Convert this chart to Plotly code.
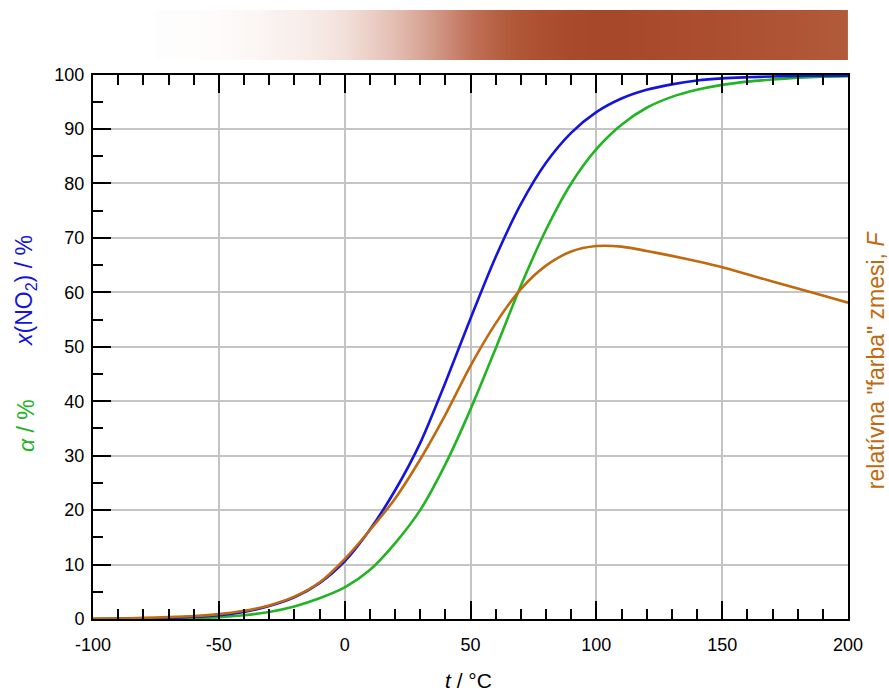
import plotly.graph_objects as go

# Temperature (°C)
t = [-100, -90, -80, -70, -60, -50, -40, -30, -20, -10, 0, 10, 20, 30, 40, 50,
     60, 70, 80, 90, 100, 110, 120, 130, 140, 150, 160, 170, 180, 190, 200]

# x(NO2) / %  (blue)
x_no2 = [0.0, 0.05, 0.1, 0.2, 0.4, 0.7, 1.3, 2.4, 4.0, 6.6, 10.6, 16.4, 23.6, 32.3,
         43.4, 55.2, 66.5, 76.2, 83.8, 89.3, 93.1, 95.6, 97.2, 98.2, 98.9, 99.3,
         99.5, 99.65, 99.75, 99.8, 99.8]

# alpha / %  (green)
alpha = [0.0, 0.02, 0.05, 0.1, 0.2, 0.35, 0.7, 1.3, 2.3, 3.8, 5.8, 9.0, 13.9, 20.0,
         28.4, 38.5, 49.7, 61.2, 71.5, 80.0, 86.3, 90.8, 93.9, 95.9, 97.2, 98.1,
         98.7, 99.1, 99.4, 99.6, 99.7]

# relative "colour" of the mixture, F  (orange)
farba = [0.05, 0.1, 0.2, 0.35, 0.55, 0.9, 1.5, 2.5, 4.1, 6.7, 11.0, 16.3, 22.1, 29.3,
         37.5, 46.5, 54.3, 60.6, 64.9, 67.5, 68.5, 68.4, 67.6, 66.7, 65.7, 64.6,
         63.3, 62.0, 60.7, 59.4, 58.1]

x_tick_vals = [-100, -50, 0, 50, 100, 150, 200]
x_tick_text = ["-100", "-50", "0", "50", "100", "150", "200"]

# colour strip spans from -70 °C on
strip_start = 3

BLUE = "#1414DC"
GREEN = "#22B422"
ORANGE = "#C0690F"
FONT = "Liberation Sans, Arial, sans-serif"

fig = go.Figure()

# colour strip on top
fig.add_trace(go.Heatmap(
    x=t[strip_start:], y=[0], z=[farba[strip_start:]],
    xaxis="x2", yaxis="y2",
    colorscale=[[0.0, "#FFFFFF"], [0.045, "#FAF1EE"], [0.16, "#F2E0DA"],
                [0.38, "#DEB2A4"], [0.69, "#C07058"], [0.85, "#B25A3A"],
                [1.0, "#A8482A"]],
    zmin=0, zmax=68.5, zsmooth="best", showscale=False, hoverinfo="skip",
))

for y, c in [(alpha, GREEN), (x_no2, BLUE), (farba, ORANGE)]:
    fig.add_trace(go.Scatter(
        x=t, y=y, mode="lines",
        line=dict(color=c, width=2.6, shape="spline", smoothing=0.8),
        showlegend=False, hoverinfo="skip",
    ))

tickfont = dict(family=FONT, size=18, color="black")

fig.update_layout(
    width=889, height=691,
    margin=dict(l=93, r=41, t=10, b=72),
    paper_bgcolor="white", plot_bgcolor="white",
    showlegend=False,
    font=dict(family=FONT, size=18, color="black"),
    xaxis=dict(
        range=[-100, 200], tickvals=x_tick_vals, ticktext=x_tick_text,
        ticks="inside", ticklen=18, tickwidth=2, tickcolor="black",
        minor=dict(dtick=10, ticks="inside", ticklen=10, tickwidth=2,
                   tickcolor="black", showgrid=False),
        showline=True, linecolor="black", linewidth=2, mirror="allticks",
        showgrid=True, gridcolor="#C4C4C4", gridwidth=2,
        zeroline=False, tickfont=tickfont, anchor="y", automargin=False,
        ticklabelstandoff=8,
    ),
    yaxis=dict(
        range=[0, 100], domain=[0, 0.894], dtick=10,
        ticks="inside", ticklen=18, tickwidth=2, tickcolor="black",
        minor=dict(dtick=5, ticks="inside", ticklen=10, tickwidth=2,
                   tickcolor="black", showgrid=False),
        showline=True, linecolor="black", linewidth=2, mirror=True,
        showgrid=True, gridcolor="#C4C4C4", gridwidth=2,
        zeroline=False, tickfont=tickfont, anchor="x", automargin=False,
        ticklabelstandoff=3,
    ),
    xaxis2=dict(range=[-100, 200], domain=[0, 1], visible=False,
                anchor="y2", fixedrange=True, automargin=False),
    yaxis2=dict(range=[-0.5, 0.5], domain=[0.918, 1.0], visible=False,
                anchor="x2", fixedrange=True, automargin=False),
)

common = dict(xref="paper", yref="paper", showarrow=False,
              xanchor="center", yanchor="middle")
annots = [
    dict(text="<i>t</i> / °C", x=0.4967, y=-0.101,
         font=dict(family=FONT, size=21, color="black"), **common),
    dict(text="<i>x</i>(NO<sub>2</sub>) / %", x=-0.0887, y=0.5386, textangle=-90,
         font=dict(family=FONT, size=23, color=BLUE), **common),
    dict(text="<i>α</i> / %", x=-0.0887, y=0.317, textangle=-90,
         font=dict(family=FONT, size=23, color=GREEN), **common),
    dict(text='relatívna "farba" zmesi, <i>F</i>', x=1.0371, y=0.425, textangle=-90,
         font=dict(family=FONT, size=23, color=ORANGE), **common),
]
fig.update_layout(annotations=annots)

fig.write_html(
    "out.html",
    config={"displayModeBar": False},
    post_script="document.body.style.margin='0';document.body.style.overflow='hidden';",
)
